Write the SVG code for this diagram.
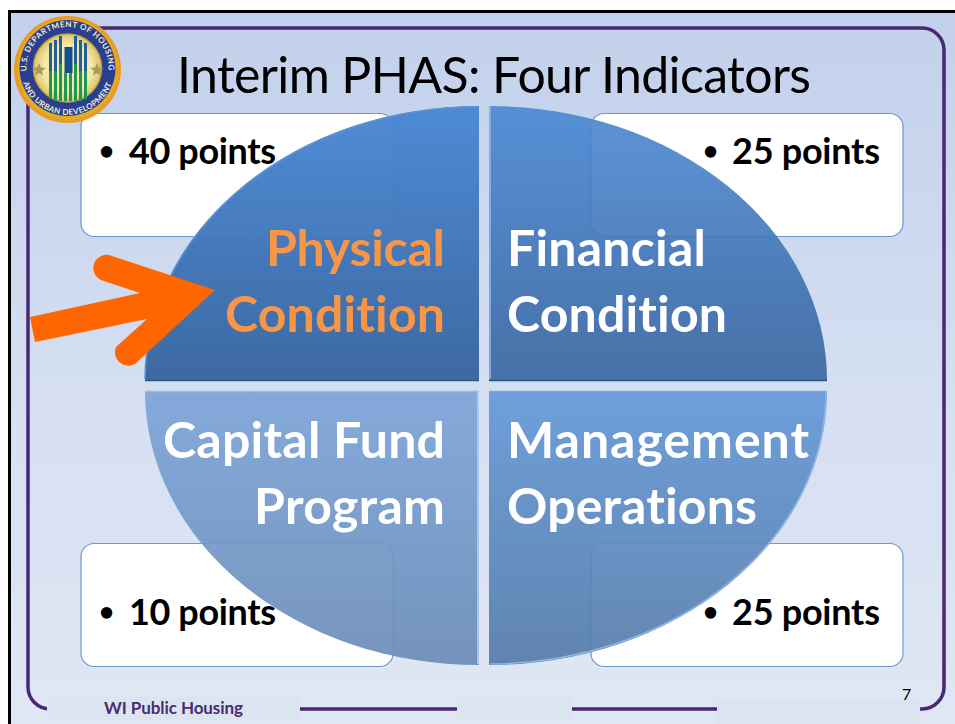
<svg xmlns="http://www.w3.org/2000/svg" width="955" height="724" viewBox="0 0 955 724">
<style>
text{font-family:"Lato","Open Sans","Liberation Sans",sans-serif;font-variant-ligatures:none}
.box{fill:#fff;stroke:#6f97cf;stroke-width:1.2}
.pts{font-size:36px;font-weight:700;fill:#000}
.bul{font-size:26px;font-weight:700;fill:#000}
.lbl{font-size:50px;font-weight:700;fill:#fff}
.org{fill:#f79646}
.frame{fill:none;stroke:#4a2775;stroke-width:3.500}
.foot{fill:#dbe5f0}
.bev{fill:none;stroke-width:1.5}
.seal{font-size:8px;font-weight:700;fill:#f1ead0}
</style>
<defs>
<linearGradient id="bg" x1="0" y1="0" x2="0" y2="1"><stop offset="0" stop-color="#c2d0eb"/><stop offset="0.55" stop-color="#d6e0f2"/><stop offset="1" stop-color="#e0e7f4"/></linearGradient>
<linearGradient id="q1" x1="0" y1="0" x2="0" y2="1"><stop offset="0" stop-color="#4a88d4"/><stop offset="1" stop-color="#38659f"/></linearGradient>
<linearGradient id="q2" x1="0" y1="0" x2="0" y2="1"><stop offset="0" stop-color="#4a88d4"/><stop offset="1" stop-color="#38659f"/></linearGradient>
<linearGradient id="q3" x1="0" y1="0" x2="0" y2="1"><stop offset="0" stop-color="#7ea5d8"/><stop offset="1" stop-color="#6a8cb8"/></linearGradient>
<linearGradient id="q4" x1="0" y1="0" x2="0" y2="1"><stop offset="0" stop-color="#6699d8"/><stop offset="1" stop-color="#567ca9"/></linearGradient>
<radialGradient id="gold" cx="0.5" cy="0.5" r="0.5"><stop offset="0.7" stop-color="#f4e9a8"/><stop offset="1" stop-color="#d9c66a"/></radialGradient>
<path id="sealtop" d="M28.300 80A41 41 0 1 1 106.700 80"/>
<path id="sealbot" d="M22.100 80A47 47 0 0 0 112.900 80"/>
</defs>
<rect width="955" height="724" fill="#fff"/>
<rect x="9.500" y="11.500" width="960" height="730" fill="url(#bg)" stroke="#000" stroke-width="3"/>
<rect class="frame" x="28" y="28" width="916" height="681" rx="22"/>
<g id="footer">
<rect class="foot" x="47" y="697" width="253" height="24"/>
<rect class="foot" x="457" y="697" width="115" height="24"/>
<rect class="foot" x="717" y="699" width="203" height="25"/>
<text x="104" y="714" font-size="17" font-weight="700" fill="#4b2a78" textLength="139">WI Public Housing</text>
<text x="902" y="700" font-size="16" fill="#000">7</text>
</g>
<g id="title"><text x="177" y="93" font-size="50" fill="#000" textLength="634">Interim PHAS: Four Indicators</text></g>
<g id="box-40"><rect class="box" x="81" y="113.500" width="312" height="123" rx="13"/><text class="bul" x="99" y="160">•</text><text class="pts" x="129" y="164" textLength="147">40 points</text></g>
<g id="box-25a"><rect class="box" x="591" y="113.500" width="312" height="123" rx="13"/><text class="bul" x="703" y="160">•</text><text class="pts" x="732" y="164" textLength="148">25 points</text></g>
<g id="box-10"><rect class="box" x="81" y="543.500" width="312" height="123" rx="13"/><text class="bul" x="99" y="621">•</text><text class="pts" x="129" y="625" textLength="147">10 points</text></g>
<g id="box-25b"><rect class="box" x="591" y="543.500" width="312" height="123" rx="13"/><text class="bul" x="703" y="621">•</text><text class="pts" x="732" y="625" textLength="148">25 points</text></g>
<g id="physical">
<path d="M145 380A334 274 0 0 1 479 106V380Z" fill="url(#q1)" fill-opacity="0.97"/>
<path class="bev" d="M145 380.500H479" stroke="#2f5486"/>
<path class="bev" d="M145 379A334 274 0 0 1 478 107" stroke="#5c92d6"/>
<text class="lbl org" x="445" y="266" text-anchor="end" textLength="179">Physical</text>
<text class="lbl org" x="445" y="332" text-anchor="end" textLength="220">Condition</text>
</g>
<g id="financial">
<path d="M489 106A338 274 0 0 1 827 380H489Z" fill="url(#q2)" fill-opacity="0.9"/>
<path class="bev" d="M489 380.500H827" stroke="#2f5486"/>
<path class="bev" d="M490 106V379" stroke="#8fb8ea"/>
<text class="lbl" x="507" y="266" textLength="199">Financial</text>
<text class="lbl" x="507" y="332" textLength="220">Condition</text>
</g>
<g id="capital">
<path d="M145 391H479V665A334 274 0 0 1 145 391Z" fill="url(#q3)" fill-opacity="0.92"/>
<path class="bev" d="M145 391.500H479" stroke="#9dbce2"/>
<path class="bev" d="M478 392V664" stroke="#b9d8f8"/>
<text class="lbl" x="445" y="458" text-anchor="end" textLength="282">Capital Fund</text>
<text class="lbl" x="445" y="524" text-anchor="end" textLength="191">Program</text>
</g>
<g id="management">
<path d="M489 391H827A338 274 0 0 1 489 665Z" fill="url(#q4)" fill-opacity="0.92"/>
<path class="bev" d="M489 391.500H827" stroke="#7fa8de"/>
<path class="bev" d="M826 393A338 272 0 0 1 490 664" stroke="#8db6e6"/>
<text class="lbl" x="507" y="458" textLength="302">Management</text>
<text class="lbl" x="507" y="524" textLength="250">Operations</text>
</g>
<g id="arrow"><path d="M30 317L140 293L101 280A13 13 0 0 1 112 256L215 290L135 364A13.500 13.500 0 0 1 116 347L147 319L35 342Z" fill="#f60"/></g>
<g id="seal">
<circle cx="67.500" cy="69.500" r="53.500" fill="#ee9a1e"/>
<circle cx="67.500" cy="69" r="50.500" fill="#e0ad28"/>
<circle cx="67.500" cy="68" r="48" fill="#2a3f8f"/>
<circle cx="67.500" cy="68" r="34" fill="url(#gold)" stroke="#c9a83c" stroke-width="1.500"/>
<text class="seal"><textPath href="#sealtop" startOffset="9" textLength="134">U.S. DEPARTMENT OF HOUSING</textPath></text>
<text class="seal"><textPath href="#sealbot" startOffset="3" textLength="116">AND URBAN DEVELOPMENT</textPath></text>
<g fill="#1f5f9e"><rect x="49" y="43" width="3" height="28"/><rect x="54" y="40" width="3" height="31"/><rect x="59" y="36" width="3" height="30"/><rect x="74" y="36" width="3" height="30"/><rect x="79" y="40" width="3" height="31"/><rect x="84" y="43" width="3" height="28"/><rect x="64.500" y="47" width="8" height="26" fill="#124f8e"/></g>
<g fill="#1c9a55"><rect x="49" y="71" width="3" height="28"/><rect x="54" y="71" width="3" height="30"/><rect x="59" y="64" width="3" height="37"/><rect x="64" y="73" width="3" height="28"/><rect x="69" y="73" width="3" height="28"/><rect x="74" y="64" width="3" height="37"/><rect x="79" y="71" width="3" height="30"/><rect x="84" y="71" width="3" height="28"/></g>
<g fill="#a89a5a"><path d="M39 63L41 67.500L45.500 68L42 71L43 75.500L39 73L35 75.500L36 71L32.500 68L37 67.500Z"/><path d="M97 63L99 67.500L103.500 68L100 71L101 75.500L97 73L93 75.500L94 71L90.500 68L95 67.500Z"/></g>
</g>
</svg>
